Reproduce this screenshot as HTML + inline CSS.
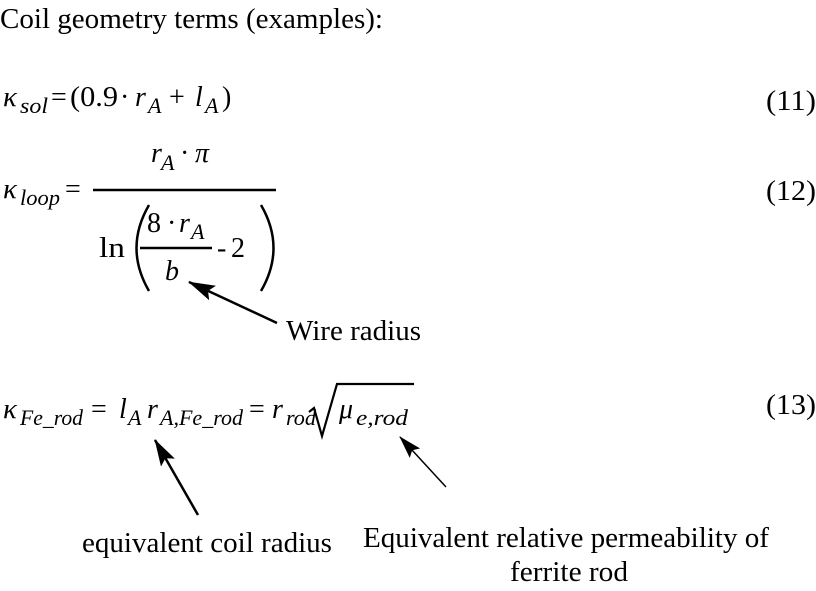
<!DOCTYPE html>
<html><head><meta charset="utf-8"><style>
html,body{margin:0;padding:0;background:#fff;}
svg{display:block;}
text{font-family:"Liberation Serif",serif;fill:#000;}
.i{font-style:italic;}
</style></head><body>
<svg width="816" height="591" viewBox="0 0 816 591" xmlns="http://www.w3.org/2000/svg">
<defs>
<marker id="ah" markerWidth="28" markerHeight="16" refX="26" refY="8" orient="auto" markerUnits="userSpaceOnUse">
<path d="M0,0 L27,8 L0,16 L5,8z" fill="#000"/>
</marker>
<marker id="ah2" markerWidth="24" markerHeight="14" refX="22" refY="7" orient="auto" markerUnits="userSpaceOnUse">
<path d="M0,0 L23,7 L0,14 L4,7z" fill="#000"/>
</marker>
</defs>
<text x="0" y="28" font-size="28" textLength="383" lengthAdjust="spacingAndGlyphs">Coil geometry terms (examples):</text>

<text x="3" y="106" font-size="29" class="i">κ</text>
<text x="20" y="113" font-size="22" class="i" textLength="28" lengthAdjust="spacingAndGlyphs">sol</text>
<text x="51" y="106" font-size="28">=</text>
<text x="70" y="106" font-size="28" textLength="48" lengthAdjust="spacingAndGlyphs">(0.9</text>
<text x="120" y="106" font-size="28">·</text>
<text x="135" y="106" font-size="28" class="i">r</text>
<text x="148" y="113" font-size="22" class="i">A</text>
<text x="169" y="106" font-size="28">+</text>
<text x="195" y="106" font-size="28" class="i">l</text>
<text x="205" y="113" font-size="22" class="i">A</text>
<text x="222" y="106" font-size="28">)</text>
<text x="766" y="110" font-size="28" textLength="50" lengthAdjust="spacingAndGlyphs">(11)</text>

<text x="3" y="198" font-size="29" class="i">κ</text>
<text x="20" y="205" font-size="22" class="i" textLength="40" lengthAdjust="spacingAndGlyphs">loop</text>
<text x="65" y="198" font-size="28">=</text>
<text x="151" y="162" font-size="28" class="i">r</text>
<text x="161" y="170" font-size="22" class="i">A</text>
<text x="180" y="162" font-size="28">·</text>
<text x="195" y="162" font-size="28" class="i">π</text>
<line x1="93" y1="190" x2="276" y2="190" stroke="#000" stroke-width="2.5"/>
<text x="99" y="257" font-size="28" textLength="26" lengthAdjust="spacingAndGlyphs">ln</text>
<path d="M149,205 Q124,248 149,291" stroke="#000" stroke-width="2.5" fill="none"/>
<path d="M261,205 Q286,248 261,291" stroke="#000" stroke-width="2.5" fill="none"/>
<text x="147" y="232" font-size="28">8</text>
<text x="167" y="232" font-size="28">·</text>
<text x="179" y="232" font-size="28" class="i">r</text>
<text x="191" y="239" font-size="22" class="i">A</text>
<line x1="140" y1="248" x2="212" y2="248" stroke="#000" stroke-width="2.5"/>
<text x="217" y="257" font-size="28">-</text>
<text x="231" y="257" font-size="28">2</text>
<text x="165" y="280" font-size="28" class="i">b</text>
<line x1="277" y1="323" x2="189" y2="282" stroke="#000" stroke-width="2.5" marker-end="url(#ah)"/>
<text x="286" y="340" font-size="28" textLength="135" lengthAdjust="spacingAndGlyphs">Wire radius</text>
<text x="766" y="200" font-size="28" textLength="50" lengthAdjust="spacingAndGlyphs">(12)</text>

<text x="3" y="418" font-size="29" class="i">κ</text>
<text x="20" y="425" font-size="22" class="i" textLength="63" lengthAdjust="spacingAndGlyphs">Fe_rod</text>
<text x="91" y="418" font-size="28">=</text>
<text x="119" y="418" font-size="28" class="i">l</text>
<text x="128" y="425" font-size="22" class="i">A</text>
<text x="147" y="418" font-size="28" class="i">r</text>
<text x="160" y="425" font-size="22" class="i" textLength="83" lengthAdjust="spacingAndGlyphs">A,Fe_rod</text>
<text x="249" y="418" font-size="28">=</text>
<text x="272" y="418" font-size="28" class="i">r</text>
<text x="286" y="425" font-size="22" class="i" textLength="30" lengthAdjust="spacingAndGlyphs">rod</text>
<path d="M309,412 L314,408 L322,436 L337,384 L414,384" stroke="#000" stroke-width="2.2" fill="none"/>
<text x="339" y="418" font-size="28" class="i">μ</text>
<text x="356" y="425" font-size="22" class="i" textLength="52" lengthAdjust="spacingAndGlyphs">e,rod</text>
<text x="766" y="414" font-size="28" textLength="50" lengthAdjust="spacingAndGlyphs">(13)</text>

<line x1="198" y1="515" x2="155" y2="440" stroke="#000" stroke-width="2.5" marker-end="url(#ah)"/>
<line x1="446" y1="487" x2="400" y2="437" stroke="#000" stroke-width="1.5" marker-end="url(#ah2)"/>
<text x="82" y="552" font-size="28" textLength="250" lengthAdjust="spacingAndGlyphs">equivalent coil radius</text>
<text x="363" y="547" font-size="28" textLength="406" lengthAdjust="spacingAndGlyphs">Equivalent relative permeability of</text>
<text x="510" y="581" font-size="28" textLength="118" lengthAdjust="spacingAndGlyphs">ferrite rod</text>
</svg>
</body></html>
